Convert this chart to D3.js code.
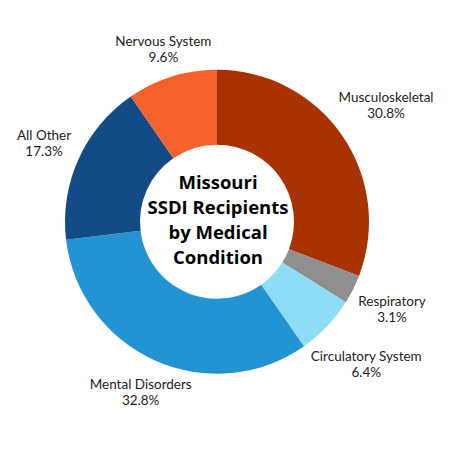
<!DOCTYPE html>
<html><head><meta charset="utf-8">
<script src="https://cdn.jsdelivr.net/npm/d3@7"></script>
<style>body{margin:0;background:#fff}svg{display:block}</style>
</head><body>
<svg id="c" width="450" height="450"></svg>
<script>
const categories = ["Musculoskeletal","Respiratory","Circulatory System","Mental Disorders","All Other","Nervous System"];
const values = [30.8, 3.1, 6.4, 32.8, 17.3, 9.6];
const valueLabels = ["30.8%","3.1%","6.4%","32.8%","17.3%","9.6%"];
const colors = ["#A83200","#8F8F8F","#8EDDF6","#2294D4","#124B85","#F4612A"];
const titleLines = ["Missouri","SSDI Recipients","by Medical","Condition"];

const svg = d3.select("#c");
const cx = 217, cy = 221.7, R = 152, r = 77;
const g = svg.append("g").attr("transform", `translate(${cx},${cy})`);
const data = categories.map((c,i)=>({name:c, value:values[i], label:valueLabels[i], color:colors[i]}));
const pie = d3.pie().value(d=>d.value).sort(null).startAngle(0).endAngle(2*Math.PI);
const arcs = pie(data);
const arc = d3.arc().innerRadius(r).outerRadius(R);
g.selectAll("path").data(arcs).join("path").attr("d", arc).attr("fill", d=>d.data.color);

const labelFont = "Lato, 'Open Sans', sans-serif";
const clear = R + 7.5;
arcs.forEach(a=>{
  const t = g.append("text").attr("font-family", labelFont).attr("font-size", 13.5).attr("fill","#222").attr("text-anchor","middle");
  t.append("tspan").attr("x",0).attr("y",0).text(a.data.name);
  t.append("tspan").attr("x",0).attr("y",16).text(a.data.label);
  const bb = t.node().getBBox();
  const w = bb.width, h = 16 + 13.5*0.72;
  const th = (a.startAngle + a.endAngle)/2;
  const s = Math.sin(th), c = -Math.cos(th);
  let d = R;
  for (; d < R + 150; d += 0.25) {
    const px = s*d, py = c*d;
    const nx = Math.abs(px) > w/2 ? Math.abs(px) - w/2 : 0;
    const ny = Math.abs(py) > h/2 ? Math.abs(py) - h/2 : 0;
    if (Math.hypot(nx, ny) >= clear) break;
  }
  const px = s*d, py = c*d;
  const boxCy = (-13.5*0.72 + 16)/2;
  t.attr("transform", `translate(${px},${py - boxCy})`);
});

const tt = g.append("text").attr("font-family", "'Open Sans', sans-serif").attr("font-weight", 700).attr("font-size", 18.5).attr("fill","#000").attr("text-anchor","middle");
titleLines.forEach((l,i)=>{
  tt.append("tspan").attr("x",1).attr("y", -32.5 + i*25).text(l);
});
</script>
</body></html>
